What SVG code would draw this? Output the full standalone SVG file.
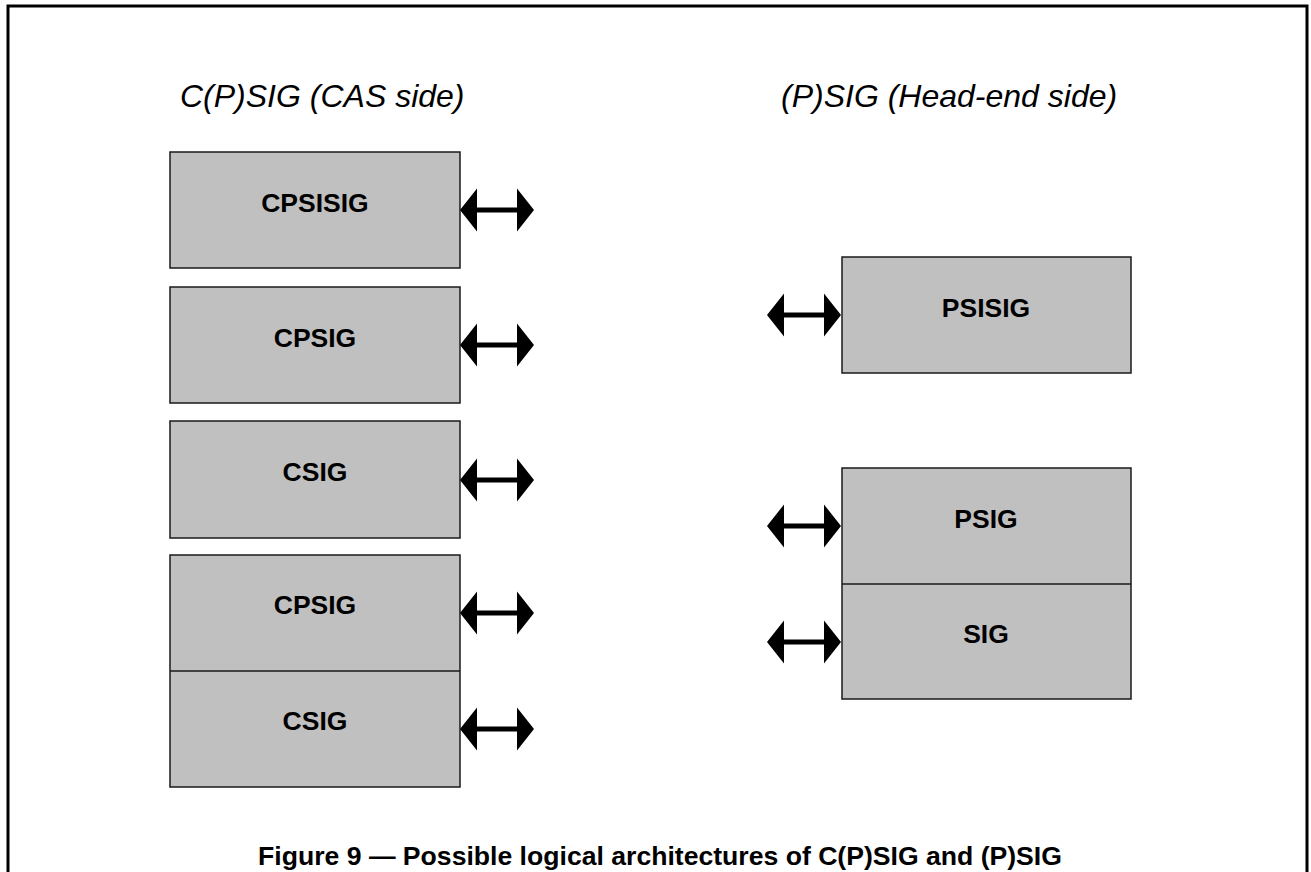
<svg xmlns="http://www.w3.org/2000/svg" width="1311" height="872" viewBox="0 0 1311 872">
  <style>
    .frame { fill: #ffffff; stroke: #000000; stroke-width: 3; }
    .box { fill: #c0c0c0; stroke: #1a1a1a; stroke-width: 1.5; }
    .divider { stroke: #1a1a1a; stroke-width: 1.5; }
    .label { font-family: "Liberation Sans", Arial, sans-serif; font-weight: bold; font-size: 26.5px; fill: #000000; text-anchor: middle; }
    .heading { font-family: "Liberation Sans", Arial, sans-serif; font-style: italic; font-size: 32px; fill: #000000; }
    .caption { font-family: "Liberation Sans", Arial, sans-serif; font-weight: bold; font-size: 26.6px; fill: #000000; text-anchor: middle; }
    .arrow { fill: #000000; }
  </style>
  <defs>
    <!-- double-headed block arrow, 74 wide, centred vertically on y=0 -->
    <path id="dbl-arrow" class="arrow" d="M0,0 L17,-21.5 L17,-2.5 L57,-2.5 L57,-21.5 L74,0 L57,21.5 L57,2.5 L17,2.5 L17,21.5 Z"/>
  </defs>

  <!-- outer frame (bottom edge runs off the page) -->
  <rect class="frame" x="8" y="6" width="1299" height="920"/>

  <!-- column headings -->
  <text class="heading" x="180" y="107">C(P)SIG (CAS side)</text>
  <text class="heading" x="781" y="107">(P)SIG (Head-end side)</text>

  <!-- CAS side -->
  <g id="cpsisig">
    <rect class="box" x="170" y="152" width="290" height="116"/>
    <text class="label" x="315" y="212">CPSISIG</text>
  </g>
  <g id="cpsig">
    <rect class="box" x="170" y="287" width="290" height="116"/>
    <text class="label" x="315" y="347">CPSIG</text>
  </g>
  <g id="csig">
    <rect class="box" x="170" y="421" width="290" height="117"/>
    <text class="label" x="315" y="481">CSIG</text>
  </g>
  <g id="cpsig-csig-stack">
    <rect class="box" x="170" y="555" width="290" height="232"/>
    <line class="divider" x1="170" y1="671" x2="460" y2="671"/>
    <text class="label" x="315" y="614">CPSIG</text>
    <text class="label" x="315" y="730">CSIG</text>
  </g>

  <!-- Head-end side -->
  <g id="psisig">
    <rect class="box" x="842" y="257" width="289" height="116"/>
    <text class="label" x="986" y="317">PSISIG</text>
  </g>
  <g id="psig-sig-stack">
    <rect class="box" x="842" y="468" width="289" height="231"/>
    <line class="divider" x1="842" y1="584" x2="1131" y2="584"/>
    <text class="label" x="986" y="528">PSIG</text>
    <text class="label" x="986" y="643">SIG</text>
  </g>

  <!-- interface arrows -->
  <g id="connectors">
    <use href="#dbl-arrow" x="460" y="210"/>
    <use href="#dbl-arrow" x="460" y="345"/>
    <use href="#dbl-arrow" x="460" y="480"/>
    <use href="#dbl-arrow" x="460" y="613"/>
    <use href="#dbl-arrow" x="460" y="729"/>
    <use href="#dbl-arrow" x="767" y="315"/>
    <use href="#dbl-arrow" x="767" y="526"/>
    <use href="#dbl-arrow" x="767" y="642"/>
  </g>

  <!-- caption -->
  <text class="caption" x="660" y="865">Figure 9 — Possible logical architectures of C(P)SIG and (P)SIG</text>
</svg>
